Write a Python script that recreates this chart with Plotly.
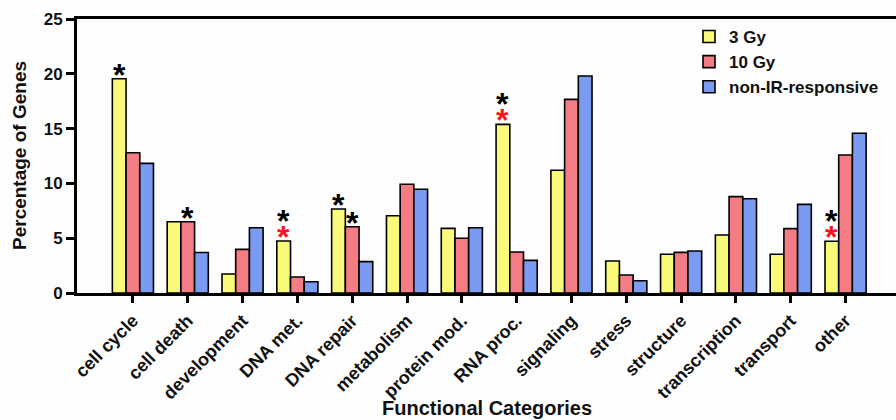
import plotly.graph_objects as go

categories = ["cell cycle", "cell death", "development", "DNA met.", "DNA repair",
              "metabolism", "protein mod.", "RNA proc.", "signaling", "stress",
              "structure", "transcription", "transport", "other"]
series_names = ["3 Gy", "10 Gy", "non-IR-responsive"]
gy3 = [19.55, 6.5, 1.73, 4.74, 7.66, 7.05, 5.9, 15.39, 11.2, 2.92, 3.53, 5.29, 3.53, 4.72]
gy10 = [12.8, 6.5, 3.98, 1.46, 6.05, 9.92, 4.99, 3.74, 17.67, 1.64, 3.71, 8.79, 5.87, 12.59]
nonir = [11.83, 3.7, 5.96, 1.03, 2.86, 9.46, 5.96, 2.98, 19.8, 1.12, 3.83, 8.6, 8.09, 14.57]
y_ticks = [0, 5, 10, 15, 20, 25]

# significance marks: (category, series index)
black_stars = [("cell cycle", 0), ("cell death", 1), ("DNA met.", 0), ("DNA repair", 0),
               ("DNA repair", 1), ("RNA proc.", 0), ("other", 0)]
red_stars = [("DNA met.", 0), ("RNA proc.", 0), ("other", 0)]

colors = ["#F9F97A", "#F47C84", "#7B9BF2"]
values = [gy3, gy10, nonir]

FONT = "Liberation Sans, Arial, sans-serif"

fig = go.Figure()
for name, vals, col in zip(series_names, values, colors):
    fig.add_trace(go.Bar(
        x=categories, y=vals, name=name,
        marker=dict(color=col, line=dict(color="black", width=1.6)),
    ))

# layout geometry
W, H = 896, 420
ml, mr, mt, mb = 77, 0, 19, 127
x_range = [-1.02, 13.92]
plot_w = W - ml - mr
plot_h = H - mt - mb
cat_px = plot_w / (x_range[1] - x_range[0])
bargap = 0.25
bar_px = cat_px * (1 - bargap) / 3

annotations = []
red_set = set(red_stars)
for cat, s in black_stars:
    i = categories.index(cat)
    v = values[s][i]
    shift = 0 if (cat, s) in red_set else -16
    annotations.append(dict(x=cat, y=v, xref="x", yref="y", text="*", showarrow=False,
                            xshift=(s - 1) * bar_px, yshift=shift, yanchor="bottom",
                            font=dict(family=FONT, size=32, color="black", weight="bold")))
for cat, s in red_stars:
    i = categories.index(cat)
    v = values[s][i]
    annotations.append(dict(x=cat, y=v, xref="x", yref="y", text="*", showarrow=False,
                            xshift=(s - 1) * bar_px, yshift=-16, yanchor="bottom",
                            font=dict(family=FONT, size=32, color="#FF1020", weight="bold")))

annotations.append(dict(x=0.5, y=-(408 - (H - mb)) / plot_h, xref="paper", yref="paper",
                        text="Functional Categories",
                        showarrow=False, xanchor="center", yanchor="middle",
                        font=dict(family=FONT, size=20, color="#111", weight="bold")))
annotations.append(dict(x=-(ml - 19) / plot_w, y=0.5, xref="paper", yref="paper",
                        text="Percentage of Genes", textangle=-90, showarrow=False,
                        xanchor="center", yanchor="middle",
                        font=dict(family=FONT, size=19, color="#111", weight="bold")))

fig.update_layout(
    width=W, height=H,
    margin=dict(l=ml, r=mr, t=mt, b=mb, autoexpand=False),
    paper_bgcolor="#FDFDFD", plot_bgcolor="#FDFDFD",
    barmode="group", bargap=bargap, bargroupgap=0,
    font=dict(family=FONT, color="#111"),
    showlegend=True,
    legend=dict(x=(689 - ml) / plot_w, y=1.0, xanchor="left", yanchor="top",
                bgcolor="rgba(0,0,0,0)", tracegroupgap=0, itemwidth=30,
                font=dict(family=FONT, size=17, color="#111", weight="bold")),
    annotations=annotations,
    xaxis=dict(range=x_range, showgrid=False, zeroline=False, automargin=False,
               showline=True, linecolor="black", linewidth=3, mirror=True,
               ticks="outside", ticklen=7, tickwidth=2.5, tickcolor="black",
               tickangle=-45,
               tickfont=dict(family=FONT, size=18, color="#111", weight="bold")),
    yaxis=dict(range=[0, 25], tickvals=y_ticks, showgrid=False, zeroline=False,
               automargin=False,
               showline=True, linecolor="black", linewidth=3,
               ticks="outside", ticklen=8, tickwidth=2.5, tickcolor="black",
               tickfont=dict(family=FONT, size=17, color="#111", weight="bold")),
)

fig.write_html("out.html", config={"displayModeBar": False},
               post_script="document.body.style.margin='0';document.body.style.overflow='hidden';")
